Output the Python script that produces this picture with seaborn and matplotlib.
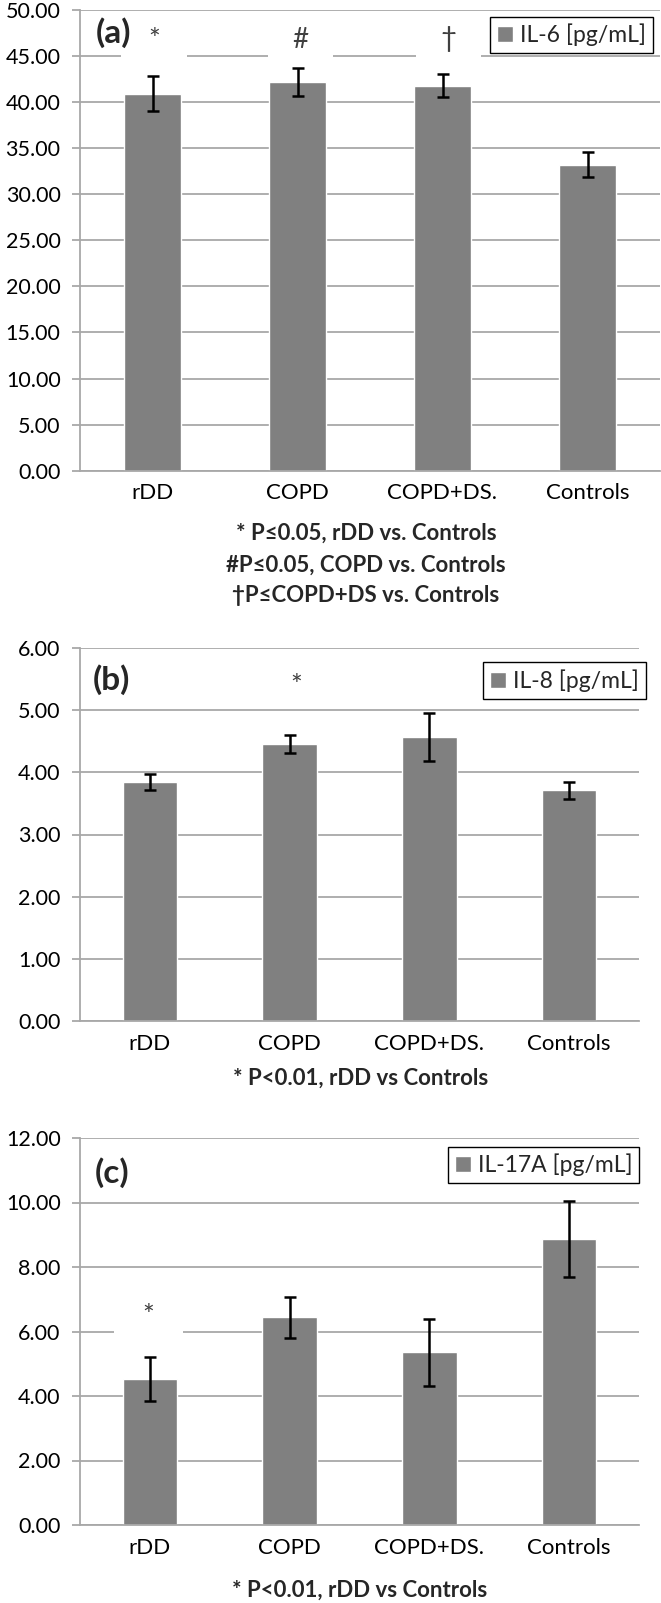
import numpy as np
import pandas as pd
import matplotlib
matplotlib.use("Agg")
import matplotlib.pyplot as plt
from matplotlib.patches import Rectangle
from matplotlib.ticker import MultipleLocator, FormatStrFormatter
import seaborn as sns

# ---------------- data ----------------
groups = ["rDD", "COPD", "COPD+DS.", "Controls"]

il6_mean = [40.9, 42.2, 41.8, 33.2]
il6_err = [1.9, 1.55, 1.25, 1.35]

il8_mean = [3.85, 4.46, 4.57, 3.71]
il8_err = [0.13, 0.145, 0.38, 0.135]

il17_mean = [4.53, 6.44, 5.36, 8.87]
il17_err = [0.67, 0.64, 1.04, 1.19]

legend_labels = ["IL-6 [pg/mL]", "IL-8 [pg/mL]", "IL-17A [pg/mL]"]
panel_tags = ["(a)", "(b)", "(c)"]
notes_a = ["* P\u22640.05, rDD vs. Controls",
           "#P\u22640.05, COPD vs. Controls",
           "\u2020P\u2264COPD+DS vs. Controls"]
note_b = "* P<0.01, rDD vs Controls"
note_c = "* P<0.01, rDD vs Controls"

# ---------------- style ----------------
sns.set_theme(style="white")
plt.rcParams["font.family"] = ["Lato", "DejaVu Sans"]

BAR = "#808080"
GRID = "#a8a8a8"
W, H = 661, 1603

fig = plt.figure(figsize=(W / 100, H / 100), dpi=100)


def px_axes(left, right, top, bottom):
    return fig.add_axes([left / W, 1 - bottom / H, (right - left) / W, (bottom - top) / H])


ax_a = px_axes(80, 660, 10, 470.7)
ax_b = px_axes(80, 639, 648, 1021)
ax_c = px_axes(80, 639, 1138, 1525)


def draw(ax, means, errs, label, ymax, step, tag, tag_y, leg_anchor):
    df = pd.DataFrame({"group": groups, "value": means})
    sns.barplot(data=df, x="group", y="value", ax=ax, color=BAR, saturation=1,
                width=0.39, errorbar=None, label=label, zorder=2)
    ax.errorbar(np.arange(len(groups)), means, yerr=errs, fmt="none",
                ecolor="black", elinewidth=1.8, capsize=4, capthick=1.8, zorder=3)
    ax.set_xlim(-0.5, len(groups) - 0.5)
    ax.set_ylim(0, ymax)
    ax.yaxis.set_major_locator(MultipleLocator(step))
    ax.yaxis.set_major_formatter(FormatStrFormatter("%.2f"))
    ax.set_xlabel("")
    ax.set_ylabel("")
    ax.set_axisbelow(True)
    ax.yaxis.grid(True, color=GRID, lw=1.3)
    ax.xaxis.grid(False)
    for s in ["top", "right"]:
        ax.spines[s].set_visible(False)
    ax.spines["left"].set_color(GRID)
    ax.spines["left"].set_linewidth(1.3)
    ax.spines["bottom"].set_color(GRID)
    ax.spines["bottom"].set_linewidth(1.3)
    ax.tick_params(axis="y", length=6, width=1.3, color=GRID, pad=8,
                   labelsize=15.5, labelcolor="black", left=True)
    ax.tick_params(axis="x", length=0, pad=9, labelsize=16, labelcolor="black")
    ax.text(0.057, tag_y, tag, transform=ax.transAxes, fontsize=24,
            fontweight="bold", ha="center", va="center")
    leg = ax.legend(loc="upper right", bbox_to_anchor=leg_anchor, borderaxespad=0,
                    fontsize=16.5, frameon=True, fancybox=False, edgecolor="black",
                    handlelength=0.7, handleheight=0.7, handletextpad=0.3,
                    borderpad=0.3)
    leg.get_frame().set_linewidth(1.0)
    leg.get_frame().set_facecolor("white")
    leg.get_frame().set_alpha(1)


draw(ax_a, il6_mean, il6_err, legend_labels[0], 50, 5, panel_tags[0], 0.950, (0.988, 0.985))
draw(ax_b, il8_mean, il8_err, legend_labels[1], 6, 1, panel_tags[1], 0.915, (1.0125, 0.962))
draw(ax_c, il17_mean, il17_err, legend_labels[2], 12, 2, panel_tags[2], 0.910, (1.0, 0.977))

# significance marks (white boxes break the gridlines as in the original)
SYM = "#404040"
for x, sym, y in [(0.01, "*", 46.6), (1.02, "#", 46.7), (2.04, "\u2020", 46.9)]:
    ax_a.add_patch(Rectangle((x - 0.225, 44.2), 0.45, 5.2, facecolor="white",
                             edgecolor="none", zorder=1.5))
    ax_a.text(x, y, sym, ha="center", va="center", fontsize=20, color=SYM, zorder=4)

ax_b.text(1.05, 5.38, "*", ha="center", va="center", fontsize=20, color=SYM)

ax_c.add_patch(Rectangle((-0.26, 5.8), 0.5, 1.4, facecolor="white",
                         edgecolor="none", zorder=1.5))
ax_c.text(-0.01, 6.45, "*", ha="center", va="center", fontsize=20, color=SYM, zorder=4)

# notes under panels
for txt, ypx in zip(notes_a, [533, 565, 596]):
    fig.text(366 / W, 1 - ypx / H, txt, ha="center", va="center",
             fontsize=16, fontweight="bold")
fig.text(361 / W, 1 - 1078 / H, note_b, ha="center", va="center",
         fontsize=16, fontweight="bold")
fig.text(360 / W, 1 - 1590 / H, note_c, ha="center", va="center",
         fontsize=16, fontweight="bold")

fig.savefig("out.png", dpi=100, facecolor="white")
